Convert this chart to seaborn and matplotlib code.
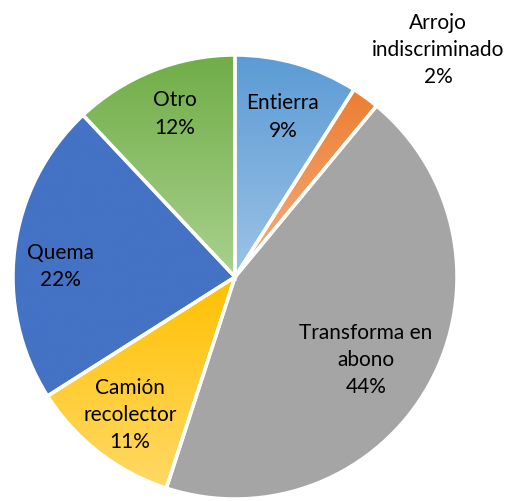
import numpy as np
import matplotlib.pyplot as plt
import seaborn as sns
from matplotlib.colors import LinearSegmentedColormap

# datos del grafico
categorias = ['Entierra', 'Arrojo\nindiscriminado', 'Transforma en\nabono',
              'Camión\nrecolector', 'Quema', 'Otro']
porcentajes = [9, 2, 44, 11, 22, 12]

# colores (arriba -> abajo, degradado de Excel)
color_arriba = ['#5B9BD5', '#ED7D31', '#A5A5A5', '#FFC000', '#4472C4', '#70AD47']
color_abajo = ['#9DC3E6', '#F4B183', '#A5A5A5', '#FFD966', '#4472C4', '#A9D18E']

# posicion de las etiquetas (coordenadas del eje)
pos_etiquetas = [(0.216, 0.725), (0.914, 1.027), (0.59, -0.369),
                 (-0.473, -0.617), (-0.788, 0.05), (-0.27, 0.739)]

sns.set_style('white')
plt.rcParams['font.family'] = ['Lato', 'DejaVu Sans']

fig = plt.figure(figsize=(5.13, 5.02), dpi=100)
ax = fig.add_axes([13/513, 2/502, 444/513, 444/502])

wedges, _ = ax.pie(porcentajes, startangle=90, counterclock=False, radius=1,
                   wedgeprops=dict(edgecolor='white', linewidth=2.5))

grad = np.linspace(0, 1, 256).reshape(-1, 1)
for w, c1, c2 in zip(wedges, color_arriba, color_abajo):
    bb = w.get_path().get_extents()
    cmap = LinearSegmentedColormap.from_list('g', [c1, c2])
    im = ax.imshow(grad, extent=[bb.x0, bb.x1, bb.y0, bb.y1], origin='upper',
                   cmap=cmap, aspect='auto', zorder=0.5)
    im.set_clip_path(w)
    w.set_facecolor('none')

for cat, p, (x, y) in zip(categorias, porcentajes, pos_etiquetas):
    ax.text(x, y, f'{cat}\n{p}%', ha='center', va='center', fontsize=15,
            linespacing=1.45, color='black', clip_on=False)

ax.set_xlim(-1, 1)
ax.set_ylim(-1, 1)
ax.axis('off')
plt.savefig('out.png', dpi=100)
